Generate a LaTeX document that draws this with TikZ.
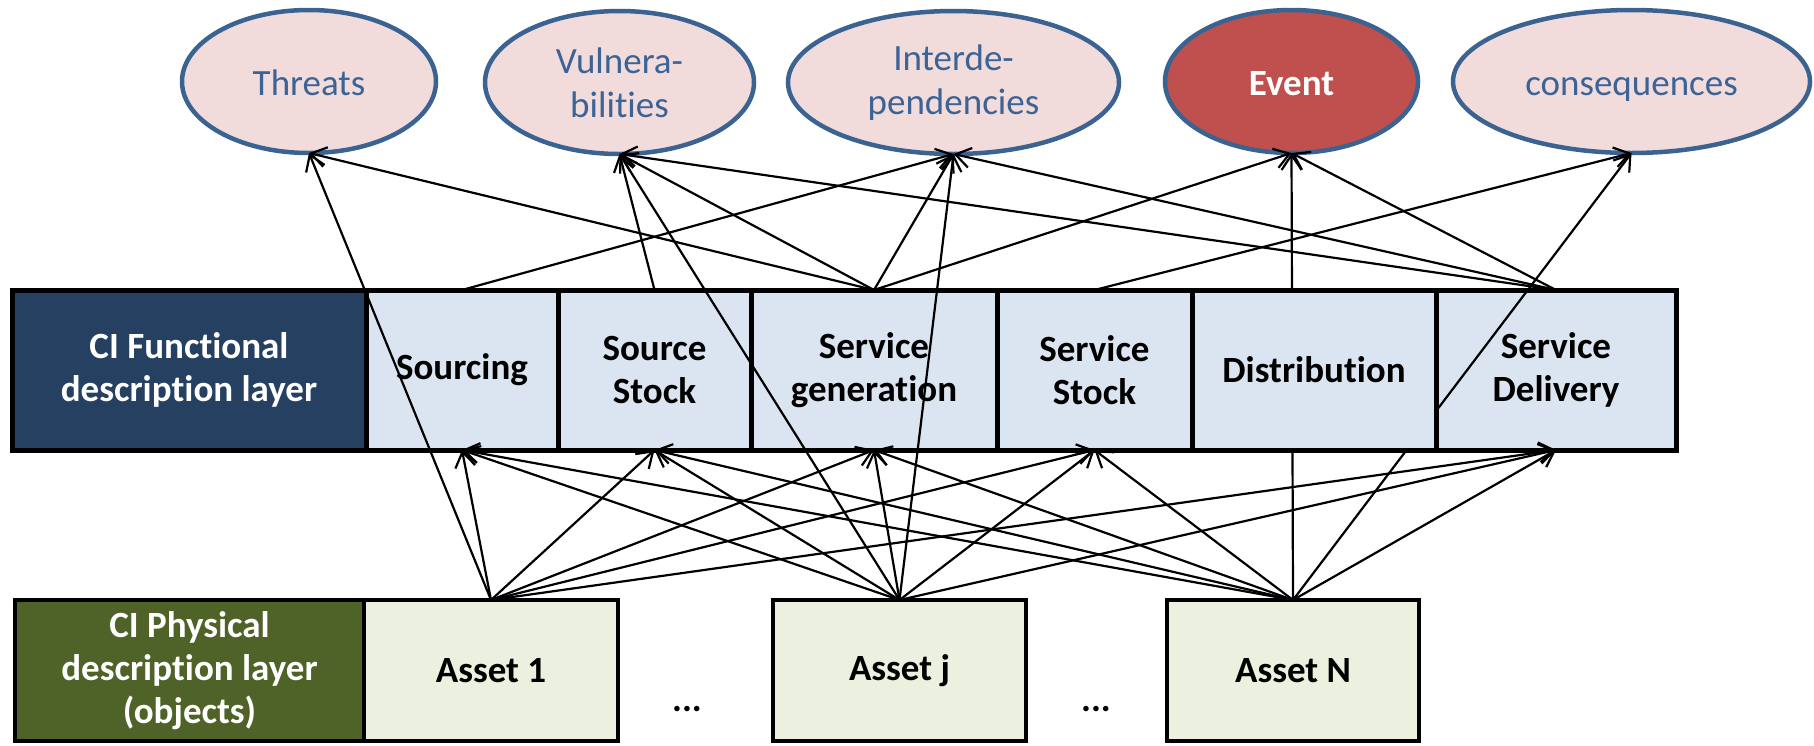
\documentclass[tikz,border=0pt]{standalone}
\usepackage{fontspec}
\setmainfont{Carlito}[Ligatures=CommonOff]
\usetikzlibrary{arrows.meta,shapes.geometric}

\definecolor{navy}{HTML}{254061}
\definecolor{olive}{HTML}{4F6228}
\definecolor{paleblue}{HTML}{DBE5F1}
\definecolor{palegreen}{HTML}{EBF1DE}
\definecolor{blush}{HTML}{F2DCDB}
\definecolor{ring}{HTML}{3B6392}
\definecolor{eventred}{HTML}{C0504D}
\definecolor{inktext}{HTML}{3C6396}

\begin{document}
\begin{tikzpicture}[x=1pt,y=-1pt,
  every node/.style={inner sep=0pt, outer sep=0pt},
  boxtext/.style={font=\fontsize{37}{43}\selectfont\bfseries, align=center},
  layerbox/.style={rectangle, draw=black, line width=5pt, boxtext},
  funcbox/.style={layerbox, fill=paleblue, minimum height=160pt},
  funchead/.style={layerbox, fill=navy, text=white, minimum height=160pt},
  assetbox/.style={layerbox, line width=4.5pt, fill=palegreen, minimum height=141pt},
  physhead/.style={layerbox, line width=4.5pt, fill=olive, text=white, minimum height=141pt},
  concept/.style={ellipse, draw=ring, line width=4.5pt, fill=blush, text=inktext,
    font=\fontsize{37}{44}\selectfont, align=center, minimum height=143pt},
  oneline/.style={text height=28pt, text depth=0pt},
  conn/.style={line width=2.2pt, -{Straight Barb[length=15pt,width=20pt]}},
  dots/.style={font=\fontsize{37}{43}\selectfont\bfseries, anchor=base}
]
\useasboundingbox (0,0) rectangle (1814,745);

% concept ellipses
\node[concept, oneline, minimum width=254pt] (threats)  at (309,81.5)    {Threats};
\node[concept, minimum width=269pt] (vuln)     at (619.5,82.5)  {Vulnera-\\bilities};
\node[concept, minimum width=331pt] (interdep) at (953.5,82.5)  {Interde-\\pendencies};
\node[concept, oneline, minimum width=253pt, fill=eventred, text=white,
      font=\fontsize{37}{44}\selectfont\bfseries] (event) at (1291.5,81.5) {Event};
\node[concept, oneline, minimum width=357pt] (conseq)   at (1631.5,81.5) {consequences};

% functional description layer
\node[funchead, minimum width=354pt] (funclayer) at (189,370)   {CI Functional\\description layer};
\node[funcbox,  minimum width=192pt] (sourcing)  at (462,370)   {Sourcing};
\node[funcbox,  minimum width=193pt] (sstock)    at (654.5,370) {Source\\Stock};
\node[funcbox,  minimum width=246pt] (sgen)      at (874,370)   {Service\\generation};
\node[funcbox,  minimum width=195pt] (svstock)   at (1094.5,370){Service\\Stock};
\node[funcbox,  minimum width=240pt] (sdeliv)    at (1556,370)  {Service\\Delivery};

% physical description layer
\node[physhead, minimum width=349pt] (physlayer) at (189.5,670.5) {CI Physical\\description layer\\(objects)};
\node[assetbox, minimum width=254pt] (a1) at (491,670.5)   {Asset 1};
\node[assetbox, minimum width=253pt] (aj) at (899.5,670.5) {Asset j};
\node[assetbox, minimum width=252pt] (aN) at (1293,670.5)  {Asset N};
\node[dots] (dots1) at (687,711)  {...};
\node[dots] (dots2) at (1096,711) {...};

% assets feed every functional block except distribution
\foreach \a in {a1,aj,aN}{
  \foreach \f in {sourcing,sstock,sgen,svstock,sdeliv}{
    \draw[conn] (\a.north) -- (\f.south);
  }
}

% assets linked straight to the concepts
\draw[conn] (a1.north) -- (threats.south);
\draw[conn] (aj.north) -- (vuln.south);
\draw[conn] (aj.north) -- (interdep.south);
\draw[conn] (aN.north) -- (event.south);
\draw[conn] (aN.north) -- (conseq.south);

% functional blocks linked to the concepts
\draw[conn] (sgen.north)     -- (threats.south);
\draw[conn] (sstock.north)   -- (vuln.south);
\draw[conn] (sgen.north)     -- (vuln.south);
\draw[conn] (sdeliv.north)   -- (vuln.south);
\draw[conn] (sourcing.north) -- (interdep.south);
\draw[conn] (sgen.north)     -- (interdep.south);
\draw[conn] (sdeliv.north)   -- (interdep.south);
\draw[conn] (sgen.north)     -- (event.south);
\draw[conn] (sdeliv.north)   -- (event.south);
\draw[conn] (svstock.north)  -- (conseq.south);

% distribution block sits above the lines that pass behind it
\node[funcbox, minimum width=244pt] (distrib) at (1314,370) {Distribution};
\end{tikzpicture}
\end{document}
